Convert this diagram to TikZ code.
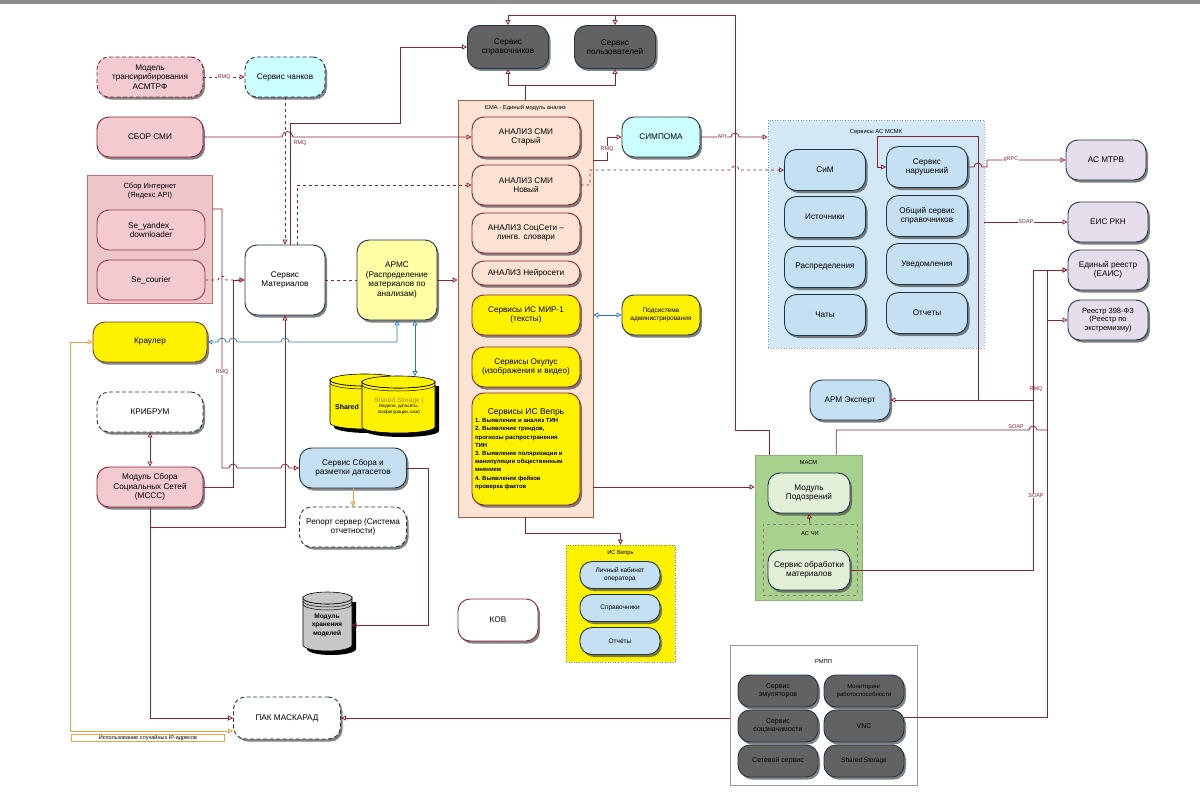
\documentclass[tikz,border=0pt]{standalone}
\usepackage{fontspec}
\setmainfont{Liberation Sans}
\usetikzlibrary{arrows.meta,shadows}
\definecolor{lred}{RGB}{140,35,55}
\definecolor{pinkf}{RGB}{242,202,207}
\definecolor{pinkgrp}{RGB}{238,198,202}
\definecolor{pinkbd}{RGB}{190,110,120}
\definecolor{pinkbd2}{RGB}{150,60,75}
\definecolor{peach}{RGB}{252,228,212}
\definecolor{peachbd}{RGB}{170,90,70}
\definecolor{peachn}{RGB}{251,226,210}
\definecolor{cyanb}{RGB}{204,255,255}
\definecolor{lblue}{RGB}{197,224,242}
\definecolor{grpblue}{RGB}{210,232,246}
\definecolor{dgray}{RGB}{98,98,98}
\definecolor{lav}{RGB}{230,222,236}
\definecolor{grn}{RGB}{169,209,142}
\definecolor{grnbd}{RGB}{140,180,120}
\definecolor{lgrn}{RGB}{226,240,217}
\definecolor{bord}{RGB}{30,55,70}
\definecolor{brn}{RGB}{120,60,40}
\definecolor{orng}{RGB}{240,160,70}
\definecolor{blu}{RGB}{40,120,200}
\definecolor{lyel}{RGB}{255,255,165}
\definecolor{olive}{RGB}{175,135,0}
\newcommand\mycyl[5]{%
 \fill[black] ({#1+4},{#3+4}) -- ({#1+4},{#4+4}) arc[start angle=180,end angle=0,x radius={(#2-#1)/2},y radius=6] -- ({#2+4},{#3+4}) -- cycle;
 \filldraw[fill=#5,draw=black,line width=0.6pt] (#1,#3) -- (#1,#4) arc[start angle=180,end angle=0,x radius={(#2-#1)/2},y radius=6] -- (#2,#3) arc[start angle=0,end angle=180,x radius={(#2-#1)/2},y radius=6] -- cycle;
 \draw[fill=#5,line width=0.6pt] ({(#1+#2)/2},#3) ellipse[x radius={(#2-#1)/2},y radius=6];
 \draw[line width=0.5pt] (#1,{#3+3}) arc[start angle=180,end angle=0,x radius={(#2-#1)/2},y radius=6];
}
\tikzset{
 ndb/.style={draw=bord, line width=0.9pt, rounded corners=12pt, align=center, inner sep=1pt, font=\fontsize{8.2}{9.6}\selectfont},
 nd/.style={ndb, drop shadow={shadow xshift=2pt, shadow yshift=-2.5pt, fill=black!70, opacity=0.7}},
 wh/.style 2 args={minimum width=#1pt, minimum height=#2pt},
 grp/.style={line width=0.6pt, inner sep=0pt},
 gt/.style={font=\fontsize{5.8}{6.8}\selectfont, inner sep=0pt, align=center},
 ln/.style={draw=lred, line width=0.8pt},
 toarr/.style={-{Triangle[open,length=5pt,width=5pt]}},
 bothar/.style={{Triangle[open,length=5pt,width=5pt]}-{Triangle[open,length=5pt,width=5pt]}},
 lbl/.style={font=\fontsize{5.5}{6}\selectfont, text=lred, inner sep=0.5pt, fill=white},
 dsh/.style={dash pattern=on 4pt off 2.5pt},
}
\begin{document}
\begin{tikzpicture}[x=1pt,y=-1pt]
\useasboundingbox (0,0) rectangle (1200,808);
\fill[black!45] (0,0) rectangle (1200,4);

% groups
\node[grp, fill=pinkgrp, draw=pinkbd, wh={125}{128}] (sbi) at (149.5,239) {};
\node[gt, font=\fontsize{7.5}{9}\selectfont] (sbit) at (150,191) {Сбор Интернет\\(Яндекс API)};
\node[grp, fill=peach, draw=peachbd, wh={135}{417}] (ema) at (525.5,308.5) {};
\node[gt] (emat) at (525.5,108) {ЕМА - Единый модуль анализ};
\node[grp, fill=grpblue, draw=gray!70, dotted, wh={216}{228}] (mcmk) at (876,234) {};
\node[gt] (mcmkt) at (876,132) {Сервисы АС МСМК};
\node[grp, fill=grn, draw=grnbd, wh={107}{145}] (masm) at (808.5,527.5) {};
\node[gt] (masmt) at (808.5,462) {МАСМ};
\node[grp, draw=black!50, dashed, wh={94}{71}] (acchi) at (810,559.5) {};
\node[gt] (acchit) at (810,533) {АС ЧИ};
\node[grp, fill=yellow, draw=gray, dotted, wh={109}{117}] (vepr) at (620.5,603.5) {};
\node[gt] (veprt) at (620.5,553) {ИС Вепрь};
\node[grp, fill=white, draw=gray!80, wh={187}{140}] (rmpp) at (823.5,715) {};
\node[gt] (rmppt) at (823.5,661) {РМПП};

% left column
\node[nd, fill=pinkf, draw=lred, dsh, wh={106}{40}] (asm) at (150,77) {Модель\\трансирибирования\\АСМТРФ};
\node[nd, fill=cyanb, dsh, wh={80}{40}] (chank) at (285,77) {Сервис чанков};
\node[nd, fill=pinkf, draw=lred, wh={106}{40}] (smi) at (150,137) {СБОР СМИ};
\node[ndb, fill=pinkf, draw=pinkbd2, wh={108}{40}] (yand) at (151,230) {Se\_yandex\_\\downloader};
\node[ndb, fill=pinkf, draw=pinkbd2, wh={108}{40}] (cour) at (151,280) {Se\_courier};
\node[nd, fill=white, wh={80}{70}] (mat) at (285,280) {Сервис\\Материалов};
\node[nd, fill=lyel, wh={80}{80}] (armc) at (397,280) {АРМС\\(Распределение\\материалов по\\анализам)};
\node[nd, fill=yellow, draw=brn, wh={114}{40}] (kraul) at (150,342) {Краулер};
\node[nd, fill=white, dsh, wh={106}{40}] (kribr) at (150,412) {КРИБРУМ};
\node[nd, fill=pinkf, draw=lred, wh={106}{40}] (mccc) at (150,487) {Модуль Сбора\\Социальных Сетей\\(МССС)};
\node[nd, fill=lblue, wh={107}{40}] (dset) at (353,468) {Сервис Сбора и\\разметки датасетов};
\node[nd, fill=white, dsh, wh={107}{40}] (rep) at (353,527) {Репорт сервер (Система\\отчетности)};
\node[nd, fill=white, draw=lred, wh={80}{42}] (kov) at (498,620) {КОВ};
\node[nd, fill=white, dsh, wh={107}{42}] (pak) at (287,718) {ПАК МАСКАРАД};

% cylinders
\mycyl{330}{400}{380}{423}{yellow}
\node[font=\bfseries\fontsize{7}{8}\selectfont, inner sep=0] (ssl) at (347,407) {Shared};
\mycyl{362}{435}{382}{427}{yellow}
\node[align=center, inner sep=0, font=\fontsize{4.5}{5.5}\selectfont] (ss) at (399,406) {{\fontsize{6.5}{7.5}\selectfont\color{olive}Shared Storage (}\\Модели, датасеты,\\конфигурации, кэш)};
\coordinate (sstop) at (415,376);
\mycyl{303}{352}{598}{645}{black!22}
\draw[line width=0.5pt] (303,604) arc[start angle=180,end angle=0,x radius=24.5,y radius=6];
\node[wh={49}{40}, inner sep=0, align=center, font=\bfseries\fontsize{6.5}{8.5}\selectfont] (mhm) at (327,625) {Модуль\\хранения\\моделей};

% top services
\node[nd, fill=dgray, wh={81}{43}] (sprav) at (508,47) {Сервис\\справочников};
\node[nd, fill=dgray, wh={81}{43}] (users) at (615,47) {Сервис\\пользователей};

% EMA
\node[nd, fill=peachn, draw=lred, wh={108}{40}] (a1) at (526,137) {АНАЛИЗ СМИ\\Старый};
\node[nd, fill=peachn, draw=lred, wh={108}{40}] (a2) at (526,185) {АНАЛИЗ СМИ\\Новый};
\node[nd, fill=peachn, draw=lred, wh={108}{40}] (a3) at (526,233) {АНАЛИЗ СоцСети –\\лингв. словари};
\node[nd, fill=peachn, draw=lred, wh={108}{24}] (a4) at (526,273) {АНАЛИЗ Нейросети};
\node[nd, fill=yellow, draw=lred, wh={108}{40}] (a5) at (526,315) {Сервисы ИС МИР-1\\(тексты)};
\node[nd, fill=yellow, draw=lred, wh={108}{40}] (a6) at (526,367) {Сервисы Окулус\\(изображения и видео)};
\node[nd, fill=yellow, draw=lred, wh={108}{112}] (a7) at (526,449) {\parbox{102pt}{\centering\fontsize{8.5}{10.5}\selectfont Сервисы ИС Вепрь\par\raggedright\bfseries\fontsize{6}{8.2}\selectfont 1. Выявление и анализ ТИН\\2. Выявление трендов,\\прогнозы распространения\\ТИН\\3. Выявление поляризации и\\манипуляции общественным\\мнением\\4. Выявление фейков\\проверка фактов}};

\node[nd, fill=cyanb, wh={78}{40}] (simp) at (661,137) {СИМПОМА};
\node[nd, fill=yellow, wh={78}{40}, font=\fontsize{6.5}{8}\selectfont] (adm) at (661,315) {Подсистема\\администрирования};

% MCMK
\node[nd, fill=lblue, wh={81}{41}] (sim) at (825,170) {СиМ};
\node[nd, fill=lblue, wh={81}{41}] (narush) at (927,167) {Сервис\\нарушений};
\node[nd, fill=lblue, wh={81}{41}] (ist) at (825,217) {Источники};
\node[nd, fill=lblue, wh={81}{41}] (obsh) at (927,216) {Общий сервис\\справочников};
\node[nd, fill=lblue, wh={81}{41}] (raspr) at (825,267) {Распределения};
\node[nd, fill=lblue, wh={81}{41}] (uved) at (927,264) {Уведомления};
\node[nd, fill=lblue, wh={81}{41}] (chat) at (825,315) {Чаты};
\node[nd, fill=lblue, wh={81}{41}] (otch) at (927,313) {Отчеты};

% right
\node[nd, fill=lav, wh={80}{40}] (mtrv) at (1106,160) {АС МТРВ};
\node[nd, fill=lav, wh={80}{40}] (eis) at (1108,222) {ЕИС РКН};
\node[nd, fill=lav, wh={80}{40}] (eais) at (1108,270) {Единый реестр\\(ЕАИС)};
\node[nd, fill=lav, wh={80}{40}, font=\fontsize{7.5}{8.8}\selectfont] (r398) at (1108,320) {Реестр 398-ФЗ\\(Реестр по\\экстремизму)};
\node[nd, fill=lblue, wh={80}{40}] (expert) at (850,400) {АРМ Эксперт};

% MASM
\node[nd, fill=lgrn, wh={82}{40}] (podoz) at (809,493) {Модуль\\Подозрений};
\node[nd, fill=lgrn, wh={82}{40}] (obr) at (809,570) {Сервис обработки\\материалов};

% IS Vepr
\node[nd, fill=lblue, wh={80}{27}, font=\fontsize{6.5}{7.8}\selectfont] (lk) at (620,575) {Личный кабинет\\оператора};
\node[nd, fill=lblue, wh={80}{27}, font=\fontsize{6.5}{7.8}\selectfont] (spr2) at (620,608) {Справочники};
\node[nd, fill=lblue, wh={80}{27}, font=\fontsize{6.5}{7.8}\selectfont] (otch2) at (620,641) {Отчёты};

% RMPP
\node[nd, fill=dgray, wh={80}{32}, font=\fontsize{7}{8.3}\selectfont] (emu) at (778,691) {Сервис\\эмуляторов};
\node[nd, fill=dgray, wh={80}{32}, font=\fontsize{6}{7.5}\selectfont] (mon) at (864,691) {Мониторинг\\работоспособности};
\node[nd, fill=dgray, wh={80}{32}, font=\fontsize{7}{8.3}\selectfont] (soc) at (778,726) {Сервис\\соцзначимости};
\node[nd, fill=dgray, wh={80}{32}, font=\fontsize{7}{8.3}\selectfont] (vnc) at (864,726) {VNC};
\node[nd, fill=dgray, wh={80}{32}, font=\fontsize{7}{8.3}\selectfont] (net) at (778,761) {Сетевой сервис};
\node[nd, fill=dgray, wh={80}{32}, font=\fontsize{6.5}{8}\selectfont] (shs) at (864,761) {Shared Storage};

% connectors
\draw[ln,dashed,toarr] (asm) -- node[lbl]{RMQ} (chank);
\draw[ln,dashed,toarr] (chank.south) -- (mat.north);
\draw[ln,toarr] (smi.east) -- (282,137) arc[start angle=180,end angle=360,radius=5.5] -- (a1.west);
\node[lbl, fill=none] (rmq1) at (300,143) {RMQ};
\draw[ln,toarr] ([xshift=5pt]mat.north) |- (400,123) |- (sprav.west);
\draw[ln,dashed,toarr] ([xshift=12pt]mat.north) |- (a2.west);
\draw[ln,dashed] (mat.east) -- (armc.west);
\draw[ln,toarr] (armc.east) -- (armc.east -| ema.west);
\draw[ln,dashed,toarr] (cour.east) -- (218,280) arc[start angle=180,end angle=360,radius=4] -- (mat.west);
\draw[ln,toarr] (sbi.east |- 0,209) -- (222,209) -- (222,468) -- (229,468) arc[start angle=180,end angle=360,radius=4] -- (281,468) arc[start angle=180,end angle=360,radius=4] -- (dset.west);
\node[lbl] (rmq2) at (222,372) {RMQ};
\draw[ln,toarr] (mccc.east) -| (233,280) -- (mat.west);
\draw[ln,toarr] (mccc.south) |- (285,527) -- (mat.south);
\draw[ln,toarr] (mccc.south) |- (pak.west);
\draw[ln,bothar] (kribr.south) -- (mccc.north);
\draw[blu,line width=0.8pt,bothar] (kraul.east) -- (218,342) arc[start angle=180,end angle=360,radius=4] -- (229,342) arc[start angle=180,end angle=360,radius=4] -- (281,342) arc[start angle=180,end angle=360,radius=4] -- (397,342) -- (armc.south);
\draw[blu,line width=0.8pt,bothar] ([xshift=18pt]armc.south) -- (sstop);
\draw[orng,line width=0.9pt,bothar] (kraul.west) -- (70,342) |- ([yshift=-13pt]pak.west);
\node[draw=orng, fill=white, font=\fontsize{5.5}{6}\selectfont, inner sep=1pt, minimum width=153pt] (iplbl) at (148,738) {Использование случайных IP-адресов};
\draw[orng,line width=1pt,toarr] (dset.south) -- (rep.north);
\draw[ln,toarr] (dset.east) -- (428,468) |- (mhm.east);
\draw[ln,toarr] (ema.north) -- (525.5,85) -| (sprav.south);
\draw[ln,toarr] (525.5,85) -| (users.south);
\draw[ln,toarr] ([xshift=15pt]masm.north west) |- (735,430) |- (508,15) -- (sprav.north);
\draw[ln,toarr] (615,15) -- (users.north);
\draw[ln,toarr] (ema.east |- 0,160) -- (607,160) |- (simp.west);
\node[lbl] (rmq3) at (607,149) {RMQ};
\draw[ln,toarr] (simp.east) -- (731,137) arc[start angle=180,end angle=360,radius=4] -- (simp.east -| mcmk.west);
\node[lbl] (api) at (722,137) {API};
\draw[ln,dashed,toarr] (a2.east) -- (590,185) |- (731,170) arc[start angle=180,end angle=360,radius=4] -- (sim.west);
\draw[ln,toarr] (ema.east |- 0,487) -- (masm.west |- 0,487);
\draw[ln,toarr] (ema.south) -- (525.5,533) -| (vepr.north);
\draw[blu,line width=0.8pt,bothar] (ema.east |- adm) -- (adm.west);
\draw[ln,toarr] (obr.east) -- (1033,570) |- (expert.east);
\node[lbl] (rmq4) at (1036,389) {RMQ};
\node[lbl] (soap1) at (1036,496) {SOAP};
\draw[ln,toarr] (1033,400) |- (eais.west);
\draw[ln,toarr] (978,400) |- (877,136) |- (narush.west);
\draw[ln,toarr] (narush.east) -- (974,167) arc[start angle=180,end angle=360,radius=4] -- (987,167) |- (mtrv.west);
\node[lbl] (grpc) at (1011,159) {gRPC};
\draw[ln,toarr] (mcmk.east |- eis) -- node[lbl]{SOAP} (eis.west);
\draw[ln] ([xshift=-26pt]masm.north east) |- (1029,430) arc[start angle=180,end angle=360,radius=4] -- (1047,430);
\node[lbl] (soap2) at (1016,427) {SOAP};
\draw[ln,toarr] (rmpp.west |- pak.east) -- (pak.east);
\draw[ln,toarr] ([yshift=9pt]vnc.east) -- (1047,717) |- (eais.west);
\draw[ln,toarr] (1047,320) -- (r398.west);
\draw[ln,toarr] (acchi.north) -- (podoz.south);
\end{tikzpicture}
\end{document}
